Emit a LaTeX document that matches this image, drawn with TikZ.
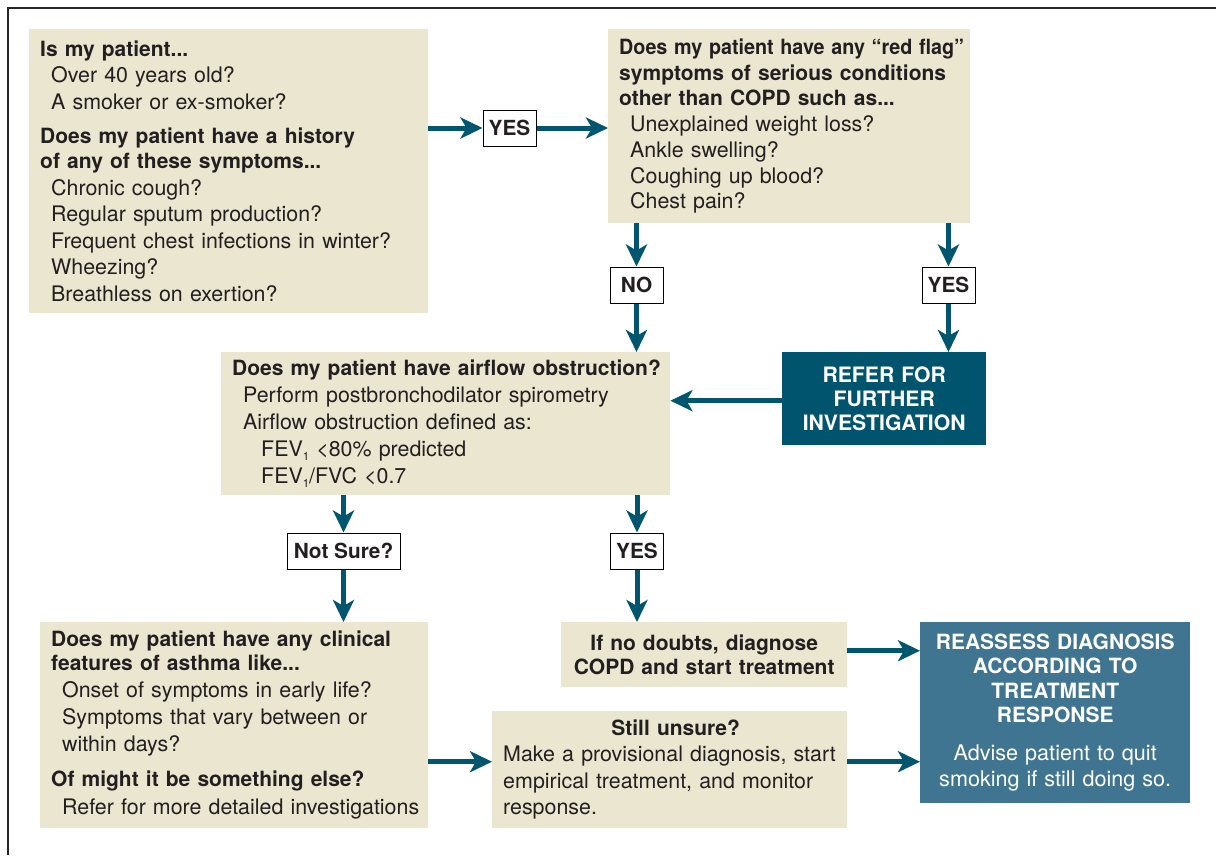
\documentclass[tikz,border=0pt]{standalone}
\usepackage{fontspec}
\setmainfont{TeX Gyre Heros}
\usetikzlibrary{arrows.meta,calc}
\definecolor{beigebox}{HTML}{EAE6CF}
\definecolor{darkteal}{HTML}{00546E}
\definecolor{lightteal}{HTML}{3F7590}
\definecolor{arrcol}{HTML}{00556F}
\definecolor{txtcol}{HTML}{231F20}
\newcommand{\ind}{\hspace*{11pt}}
\newcommand{\hd}[1]{\mbox{\fontsize{21}{26}\selectfont\bfseries #1}}
\newcommand{\lowone}{\raisebox{-4pt}{\fontsize{11.5}{11.5}\selectfont 1}}
\begin{document}
\begin{tikzpicture}[x=1pt,y=-1pt,
  every node/.style={font=\fontsize{21.4}{26.5}\selectfont, text=txtcol},
  box/.style={fill=beigebox, anchor=north west, inner xsep=11pt, inner ysep=0pt, align=left},
  tealbox/.style={anchor=north west, inner xsep=8pt, inner ysep=0pt, align=center, text=white},
  lbl/.style={draw=black, line width=1pt, fill=white, minimum width=53pt, minimum height=36pt, inner sep=2pt, font=\bfseries\fontsize{20.8}{24}\selectfont},
  arr/.style={draw=arrcol, line width=5pt, -{Stealth[length=22pt,width=21pt,inset=6pt]}}
]
\useasboundingbox (0,0) rectangle (1216,855);
\draw[line width=2pt, color=black!85] (8,855) -- (8,8) -- (1216,8);

% boxes
\node[box, minimum width=399pt, minimum height=284pt, text width=377pt,
  font=\fontsize{21.4}{26.5}\selectfont] (A) at (29,29) {%
\hd{Is my patient...}\\
\ind Over 40 years old?\\
\ind A smoker or ex-smoker?\\[8pt]
\hd{Does my patient have a history}\\[-1.5pt]
\hd{of any of these symptoms...}\\
\ind Chronic cough?\\
\ind Regular sputum production?\\
\ind\mbox{Frequent chest infections in winter?}\\
\ind Wheezing?\\
\ind Breathless on exertion?};

\node[box, minimum width=362pt, minimum height=194pt, text width=340pt,
  font=\fontsize{21.4}{25.7}\selectfont] (B) at (608,29) {%
\hd{\scalebox{0.94}[1]{Does my patient have any “red flag”}}\\
\hd{symptoms of serious conditions}\\
\hd{other than COPD such as...}\\
\ind Unexplained weight loss?\\
\ind Ankle swelling?\\
\ind Coughing up blood?\\
\ind Chest pain?};

\node[tealbox, fill=darkteal, minimum width=204pt, minimum height=93pt, text width=188pt,
  font=\bfseries\fontsize{21.2}{24}\selectfont] (R) at (782,352) {REFER FOR\\FURTHER\\INVESTIGATION};

\node[box, minimum width=449pt, minimum height=143pt, text width=427pt,
  font=\fontsize{21.4}{27}\selectfont] (C) at (221,352) {%
\hd{Does my patient have airflow obstruction?}\\
\ind\mbox{Perform postbronchodilator spirometry}\\
\ind Airflow obstruction defined as:\\
\ind\hspace*{18pt}FEV\lowone{} <80\% predicted\\
\ind\hspace*{18pt}FEV\lowone/FVC <0.7};

\node[box, minimum width=388pt, minimum height=206pt, text width=366pt,
  font=\fontsize{21.4}{27}\selectfont] (D) at (40,622) {%
\hd{Does my patient have any clinical}\\[-3pt]
\hd{features of asthma like...}\\
\ind Onset of symptoms in early life?\\
\ind Symptoms that vary between or\\
\ind within days?\\[8pt]
\hd{Of might it be something else?}\\[1pt]
\ind\mbox{Refer for more detailed investigations}};

\node[box, align=center, minimum width=286pt, minimum height=65pt, text width=264pt,
  font=\bfseries\fontsize{21}{24}\selectfont] (E) at (561,622) {If no doubts, diagnose\\COPD and start treatment};

\node[box, minimum width=355pt, minimum height=117pt, text width=333pt,
  font=\fontsize{21.4}{26.5}\selectfont] (F) at (492,711) {%
\makebox[\linewidth]{\hspace*{12pt}\hd{Still unsure?}}\\
\mbox{Make a provisional diagnosis, start}\\
empirical treatment, and monitor\\
response.};

\node[tealbox, fill=lightteal, minimum width=270pt, minimum height=181pt, text width=254pt,
  font=\fontsize{21}{24.4}\selectfont] (G) at (920,622) {%
\bfseries REASSESS DIAGNOSIS\\ACCORDING TO\\TREATMENT\\RESPONSE\\[14pt]
\mdseries\fontsize{21.6}{24.4}\selectfont Advise patient to quit\\[1.5pt]smoking if still doing so.};

% labels
\node[lbl] (yes1) at (509.5,128) {YES};
\node[lbl] (no1) at (636.5,285) {NO};
\node[lbl] (yes2) at (948.5,285) {YES};
\node[lbl, minimum width=113pt] (ns) at (343.5,551) {Not Sure?};
\node[lbl] (yes3) at (637,551) {YES};

% arrows
\draw[arr] (A.east |- yes1.west) -- (yes1.west);
\draw[arr] (yes1.east) -- (B.west |- yes1.east);
\draw[arr] (B.south -| no1) -- (no1.north);
\draw[arr] (no1.south) -- (C.north -| no1);
\draw[arr] (B.south -| yes2) -- (yes2.north);
\draw[arr] (yes2.south) -- (R.north -| yes2);
\draw[arr] ([yshift=-2pt]R.west) -- ([yshift=-2pt]R.west -| C.east);
\draw[arr] (C.south -| ns) -- (ns.north);
\draw[arr] (ns.south) -- (D.north -| ns);
\draw[arr] (C.south -| yes3) -- (yes3.north);
\draw[arr] (yes3.south) -- (E.north -| yes3);
\draw[arr] ([yshift=4pt]E.east) -- ([yshift=4pt]E.east -| G.west);
\draw[arr] ([yshift=8pt]F.west -| D.east) -- ([yshift=8pt]F.west);
\draw[arr] ([yshift=8pt]F.east) -- ([yshift=8pt]F.east -| G.west);
\end{tikzpicture}
\end{document}
